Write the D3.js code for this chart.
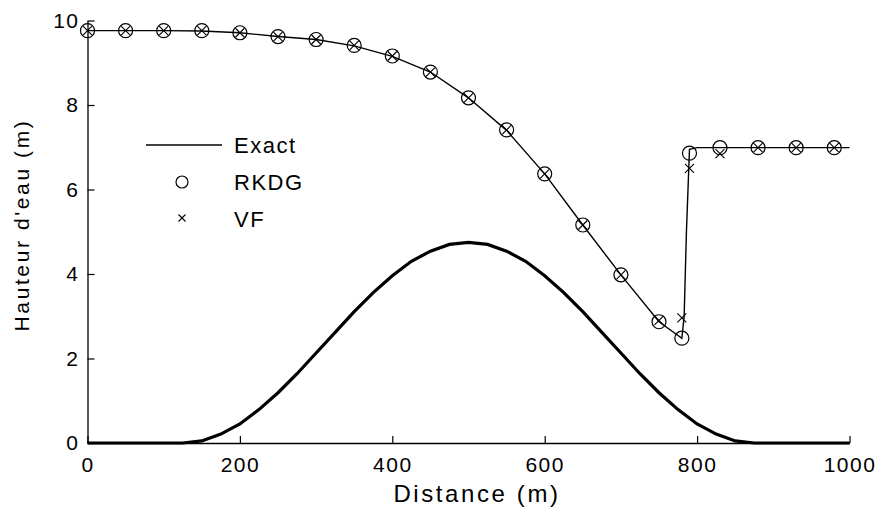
<!DOCTYPE html>
<html>
<head>
<meta charset="utf-8">
<script src="https://cdn.jsdelivr.net/npm/d3@7"></script>
<style>
  body { margin: 0; background: #fff; }
  text { font-family: "Liberation Sans", Arial, sans-serif; fill: #000; }
</style>
</head>
<body>
<div id="chart"></div>
<script>
// bed profile (thick curve)
var bedX = [0, 100, 125, 150, 175, 200, 225, 250, 275, 300, 325, 350, 375, 400, 425, 450, 475, 500,
            525, 550, 575, 600, 625, 650, 675, 700, 725, 750, 775, 800, 825, 850, 875, 900, 1000];
var bedZ = [0, 0, 0, 0.05, 0.21, 0.45, 0.79, 1.19, 1.64, 2.13, 2.62, 3.11, 3.56, 3.96, 4.30, 4.54, 4.70, 4.75,
            4.70, 4.54, 4.30, 3.96, 3.56, 3.11, 2.62, 2.13, 1.64, 1.19, 0.79, 0.45, 0.21, 0.05, 0, 0, 0];

// exact water height
var exactX = [0, 50, 100, 150, 200, 250, 300, 350, 400, 450, 500, 550, 600, 650, 700, 750, 780, 783, 786, 790, 800, 1000];
var exactH = [9.76, 9.76, 9.76, 9.75, 9.71, 9.62, 9.55, 9.40, 9.15, 8.78, 8.17, 7.40, 6.37, 5.16, 3.98, 2.87, 2.48, 3.0, 5.0, 6.95, 6.99, 6.99];

// numerical markers
var markX = [0, 50, 100, 150, 200, 250, 300, 350, 400, 450, 500, 550, 600, 650, 700, 750, 780, 790, 830, 880, 930, 980];
var rkdgH = [9.76, 9.76, 9.76, 9.76, 9.71, 9.62, 9.55, 9.41, 9.16, 8.78, 8.17, 7.41, 6.37, 5.16, 3.98, 2.87, 2.48, 6.86, 6.99, 6.99, 6.99, 6.99];
var vfH   = [9.76, 9.76, 9.76, 9.76, 9.71, 9.62, 9.55, 9.41, 9.16, 8.78, 8.17, 7.41, 6.37, 5.16, 3.98, 2.90, 2.96, 6.50, 6.85, 6.99, 6.99, 6.99];

var xTicks = [0, 200, 400, 600, 800, 1000];
var yTicks = [0, 2, 4, 6, 8, 10];

var width = 878, height = 515;

var svg = d3.select("#chart").append("svg")
    .attr("width", width)
    .attr("height", height)
    .style("display", "block");

svg.append("rect").attr("width", width).attr("height", height).attr("fill", "#fff");

var x = d3.scaleLinear().domain([0, 1000]).range([87.5, 849.5]);
var y = d3.scaleLinear().domain([0, 10]).range([443, 20.5]);

// axes, ticks pointing inward
var gx = svg.append("g")
    .attr("transform", "translate(0,443)")
    .call(d3.axisBottom(x).tickValues(xTicks).tickSize(-7).tickSizeOuter(0).tickPadding(14).tickFormat(d3.format("d")));
var gy = svg.append("g")
    .attr("transform", "translate(87.5,0)")
    .call(d3.axisLeft(y).tickValues(yTicks).tickSize(-7).tickSizeOuter(0).tickPadding(8).tickFormat(d3.format("d")));

[gx, gy].forEach(function (g) {
  g.select(".domain").attr("stroke", "#000").attr("stroke-width", 1.3);
  g.selectAll(".tick line").attr("stroke", "#000").attr("stroke-width", 1.2);
  g.selectAll(".tick text")
    .style("font-size", "21px")
    .style("letter-spacing", "1.5px")
    .attr("fill", "#000");
});

// bed
svg.append("path")
    .datum(bedX.map(function (d, i) { return [d, bedZ[i]]; }))
    .attr("fill", "none")
    .attr("stroke", "#000")
    .attr("stroke-width", 3.2)
    .attr("d", d3.line().x(function (d) { return x(d[0]); }).y(function (d) { return y(d[1]); }));

// exact solution
svg.append("path")
    .datum(exactX.map(function (d, i) { return [d, exactH[i]]; }))
    .attr("fill", "none")
    .attr("stroke", "#000")
    .attr("stroke-width", 1.4)
    .attr("d", d3.line().x(function (d) { return x(d[0]); }).y(function (d) { return y(d[1]); }));

// RKDG circles
svg.selectAll("circle.rkdg")
    .data(markX.map(function (d, i) { return [d, rkdgH[i]]; }))
    .enter()
    .append("circle")
    .attr("class", "rkdg")
    .attr("cx", function (d) { return x(d[0]); })
    .attr("cy", function (d) { return y(d[1]); })
    .attr("r", 7)
    .attr("fill", "none")
    .attr("stroke", "#000")
    .attr("stroke-width", 1.2);

// VF crosses
var cross = function (cx, cy, s) {
  return "M" + (cx - s) + "," + (cy - s) + "L" + (cx + s) + "," + (cy + s) +
         "M" + (cx - s) + "," + (cy + s) + "L" + (cx + s) + "," + (cy - s);
};
svg.selectAll("path.vf")
    .data(markX.map(function (d, i) { return [d, vfH[i]]; }))
    .enter()
    .append("path")
    .attr("class", "vf")
    .attr("d", function (d) { return cross(x(d[0]), y(d[1]), 4.5); })
    .attr("stroke", "#000")
    .attr("stroke-width", 1.1);

// axis titles
svg.append("text")
    .attr("x", 477)
    .attr("y", 502)
    .attr("text-anchor", "middle")
    .style("font-size", "24px")
    .style("letter-spacing", "2.6px")
    .text("Distance (m)");

svg.append("text")
    .attr("transform", "translate(29,225) rotate(-90)")
    .attr("text-anchor", "middle")
    .style("font-size", "21px")
    .style("letter-spacing", "2.6px")
    .text("Hauteur d'eau (m)");

// legend
var leg = svg.append("g");
leg.append("line")
    .attr("x1", 146).attr("x2", 222)
    .attr("y1", 145).attr("y2", 145)
    .attr("stroke", "#000").attr("stroke-width", 1.4);
leg.append("circle")
    .attr("cx", 182).attr("cy", 182).attr("r", 6)
    .attr("fill", "none").attr("stroke", "#000").attr("stroke-width", 1.2);
leg.append("path")
    .attr("d", cross(182, 218, 3.5))
    .attr("stroke", "#000").attr("stroke-width", 1.1);

leg.selectAll("text")
    .data(["Exact", "RKDG", "VF"])
    .enter()
    .append("text")
    .attr("x", 234)
    .attr("y", function (d, i) { return 153 + i * 37; })
    .style("font-size", "22px")
    .style("letter-spacing", "1.5px")
    .text(function (d) { return d; });
</script>
</body>
</html>
